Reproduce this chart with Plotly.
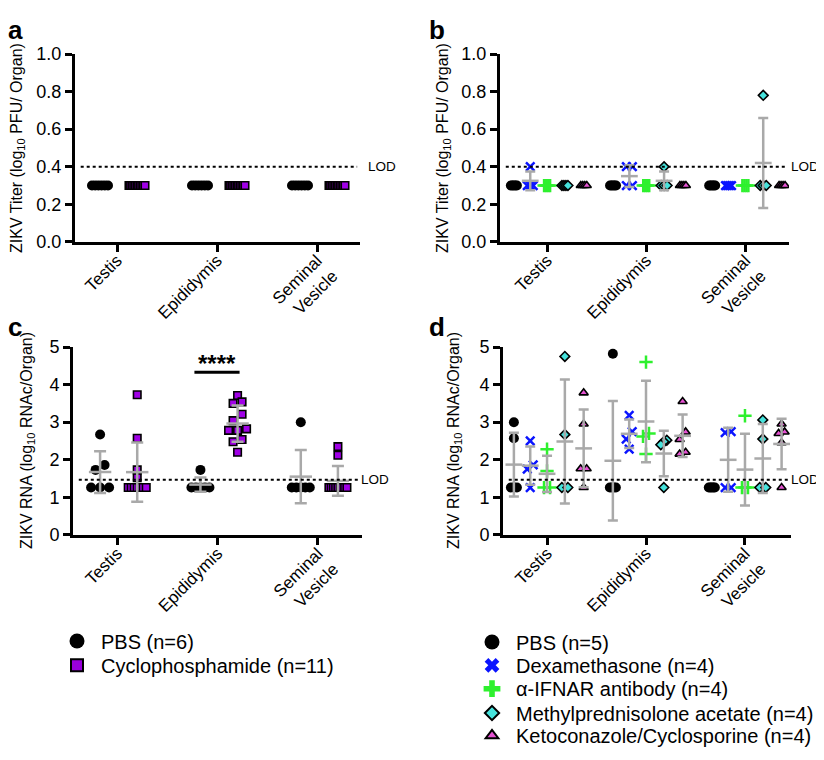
import plotly.graph_objects as go

# the page body adds an 8px margin, so everything is laid out in reference pixels minus 8
OX, OY = 8, 8
W, H = 816, 752
FONT = "Liberation Sans, Arial, sans-serif"
GREY = "#a9a9a9"

organs = ["Testis", "Epididymis", "Seminal<br>Vesicle"]

# panel a - ZIKV titer (log10 PFU/organ)
a_pbs = [[0.3, 0.3, 0.3, 0.3, 0.3, 0.3],
         [0.3, 0.3, 0.3, 0.3, 0.3, 0.3],
         [0.3, 0.3, 0.3, 0.3, 0.3, 0.3]]
a_cyc = [[0.3, 0.3, 0.3, 0.3, 0.3, 0.3, 0.3, 0.3, 0.3, 0.3, 0.3],
         [0.3, 0.3, 0.3, 0.3, 0.3, 0.3, 0.3, 0.3, 0.3, 0.3, 0.3],
         [0.3, 0.3, 0.3, 0.3, 0.3, 0.3, 0.3, 0.3, 0.3, 0.3, 0.3]]

# panel b - ZIKV titer, immunosuppressant treatments
b_pbs = [[0.3, 0.3, 0.3, 0.3, 0.3], [0.3, 0.3, 0.3, 0.3, 0.3], [0.3, 0.3, 0.3, 0.3, 0.3]]
b_dex = [[0.4, 0.3, 0.3, 0.3], [0.4, 0.4, 0.3, 0.3], [0.3, 0.3, 0.3, 0.3]]
b_ifnar = [[0.3, 0.3, 0.3, 0.3], [0.3, 0.3, 0.3, 0.3], [0.3, 0.3, 0.3, 0.3]]
b_methyl = [[0.3, 0.3, 0.3, 0.3], [0.4, 0.3, 0.3, 0.3], [0.78, 0.3, 0.3, 0.3]]
b_keto = [[0.3, 0.3, 0.3, 0.3], [0.3, 0.3, 0.3, 0.3], [0.3, 0.3, 0.3, 0.3]]

# panel c - ZIKV RNA (log10 RNAc/organ)
c_pbs = [[2.67, 1.86, 1.73, 1.26, 1.26, 1.26],
         [1.73, 1.26, 1.26, 1.26, 1.26, 1.26],
         [3.0, 1.26, 1.26, 1.26, 1.26, 1.26]]
c_cyc = [[3.73, 2.57, 1.73, 1.52, 1.26, 1.26, 1.26, 1.26, 1.26, 1.26, 1.26],
         [3.71, 3.54, 3.50, 3.21, 3.04, 2.82, 2.78, 2.78, 2.54, 2.48, 2.20],
         [2.35, 2.12, 1.26, 1.26, 1.26, 1.26, 1.26, 1.26, 1.26, 1.26, 1.26]]

# panel d - ZIKV RNA, immunosuppressant treatments
d_pbs = [[3.0, 2.57, 1.26, 1.26, 1.26], [4.82, 1.26, 1.26, 1.26, 1.26], [1.26, 1.26, 1.26, 1.26, 1.26]]
d_dex = [[2.5, 1.86, 1.75, 1.26], [3.18, 2.75, 2.55, 2.28], [2.75, 2.72, 1.26, 1.26]]
d_ifnar = [[2.28, 1.7, 1.26, 1.26], [4.6, 2.7, 2.62, 2.15], [3.17, 1.26, 1.26, 1.26]]
d_methyl = [[4.75, 2.67, 1.26, 1.26], [2.52, 2.48, 2.4, 1.26], [3.06, 2.55, 1.26, 1.26]]
d_keto = [[3.78, 2.95, 1.76, 1.76, 1.26], [3.55, 2.74, 2.54, 2.2, 2.15], [2.95, 2.74, 2.70, 2.45, 1.26]]

lod_titer = 0.4
lod_rna = 1.47

legend_c = ["PBS (n=6)", "Cyclophosphamide (n=11)"]
legend_d = ["PBS (n=5)", "Dexamethasone (n=4)", "α-IFNAR antibody (n=4)",
            "Methylprednisolone acetate (n=4)", "Ketoconazole/Cyclosporine (n=4)"]


def fx(px):
    return (px - OX) / W


def fy(py):
    return 1 - (py - OY) / H


# marker styles (data points, legend symbol)
sty = {
    "pbs": (dict(symbol="circle", size=10, color="black"),
            dict(symbol="circle", size=15, color="black")),
    "cyc": (dict(symbol="square", size=7.5, color="#a000e6", line=dict(color="black", width=1.6)),
            dict(symbol="square", size=12, color="#9a00dd", line=dict(color="black", width=2))),
    "dex": (dict(symbol="x-thin", size=8.5, color="#0a14ff", line=dict(color="#0a14ff", width=2.5)),
            dict(symbol="x", size=13, color="#0a14ff", line=dict(width=0))),
    "ifnar": (dict(symbol="cross-thin", size=9.5, color="#2ef02e", line=dict(color="#2ef02e", width=2.5)),
              dict(symbol="cross", size=14, color="#2ef02e", line=dict(width=0))),
    "methyl": (dict(symbol="diamond", size=7.5, color="#46e3dc", line=dict(color="black", width=1.6)),
               dict(symbol="diamond", size=11, color="#46e3dc", line=dict(color="black", width=2))),
    "keto": (dict(symbol="triangle-up", size=8, color="#e552d2", line=dict(color="black", width=1.6)),
             dict(symbol="triangle-up", size=11, color="#e552d2", line=dict(color="black", width=2))),
}

# panel geometry in reference pixels: x0, x1, ytop, ybottom
panels = {
    "a": dict(ax="", box=(75, 360, 45, 238), xr=(-0.42, 2.43), yr=(0, 1.0), dt=0.2),
    "b": dict(ax="2", box=(500, 789, 45, 238), xr=(-0.475, 2.44), yr=(0, 1.0), dt=0.2),
    "c": dict(ax="3", box=(73, 362, 346, 539), xr=(-0.44, 2.44), yr=(0, 5), dt=1),
    "d": dict(ax="4", box=(503, 791, 346, 539), xr=(-0.445, 2.465), yr=(0, 5), dt=1),
}


def swarm(vals, center, ux, uy, hw, size=9.0):
    # spread overlapping points sideways, GraphPad style
    order = sorted(range(len(vals)), key=lambda i: vals[i])
    rows = []
    for i in order:
        if rows and (vals[i] - vals[rows[-1][0]]) * uy < size * 0.9:
            rows[-1].append(i)
        else:
            rows.append([i])
    xs = [center] * len(vals)
    for row in rows:
        k = len(row)
        if k == 1:
            continue
        step = min(size, 2 * hw / (k - 1))
        for j, i in enumerate(row):
            xs[i] = center + (j - (k - 1) / 2) * step / ux
    return xs


def mean_sd(vals):
    n = len(vals)
    m = sum(vals) / n
    sd = (sum((v - m) ** 2 for v in vals) / (n - 1)) ** 0.5
    return m, sd


fig = go.Figure()


def add_panel(key, groups, offsets, hw, mean_w, cap_w):
    p = panels[key]
    x0, x1, yt, yb = p["box"]
    ux = (x1 - x0) / (p["xr"][1] - p["xr"][0])
    uy = (yb - yt) / (p["yr"][1] - p["yr"][0])
    xa, ya = "x" + p["ax"], "y" + p["ax"]
    for (data, st), off in zip(groups, offsets):
        for ci, vals in enumerate(data):
            xs = swarm(vals, ci + off, ux, uy, hw)
            fig.add_trace(go.Scatter(x=xs, y=vals, mode="markers", marker=sty[st][0],
                                     xaxis=xa, yaxis=ya, showlegend=False, hoverinfo="skip"))
    # mean +/- SD drawn over the points
    for (data, st), off in zip(groups, offsets):
        for ci, vals in enumerate(data):
            m, sd = mean_sd(vals)
            if sd == 0:
                continue
            fig.add_trace(go.Scatter(
                x=[ci + off], y=[m], mode="markers",
                marker=dict(symbol="line-ew-open", size=mean_w, color=GREY,
                            line=dict(color=GREY, width=2.5)),
                error_y=dict(type="data", array=[sd], color=GREY, thickness=2.5, width=cap_w),
                xaxis=xa, yaxis=ya, showlegend=False, hoverinfo="skip"))


add_panel("a", [(a_pbs, "pbs"), (a_cyc, "cyc")], [-0.17, 0.2], 8, 16, 6)
add_panel("b", [(b_pbs, "pbs"), (b_dex, "dex"), (b_ifnar, "ifnar"), (b_methyl, "methyl"), (b_keto, "keto")],
          [-0.335, -0.17, 0, 0.18, 0.37], 3, 12, 5)
add_panel("c", [(c_pbs, "pbs"), (c_cyc, "cyc")], [-0.17, 0.2], 9, 16, 6)
add_panel("d", [(d_pbs, "pbs"), (d_dex, "dex"), (d_ifnar, "ifnar"), (d_methyl, "methyl"), (d_keto, "keto")],
          [-0.335, -0.17, 0, 0.18, 0.37], 3, 12, 5)

layout = dict(
    width=W, height=H, margin=dict(l=0, r=0, t=0, b=0),
    paper_bgcolor="white", plot_bgcolor="white",
    font=dict(family=FONT, color="black"),
)

# one legend per row so the rows sit where the reference has them
legend_rows = [(legend_c, ["pbs", "cyc"], "x3", "y3", 53, [648, 673]),
               (legend_d, ["pbs", "dex", "ifnar", "methyl", "keto"], "x4", "y4", 468,
                [649, 673, 697, 722, 745])]
li = 0
for names, keys, xa, ya, lx, rows in legend_rows:
    for name, st, ry in zip(names, keys, rows):
        li += 1
        lname = "legend" if li == 1 else "legend%d" % li
        fig.add_trace(go.Scatter(x=[None], y=[None], mode="markers", name=name, marker=sty[st][1],
                                 xaxis=xa, yaxis=ya, legend=lname))
        layout[lname] = dict(x=fx(lx), y=fy(ry), xanchor="left", yanchor="middle",
                             font=dict(size=20), itemwidth=38, bgcolor="rgba(0,0,0,0)",
                             borderwidth=0)

annotations = []
shapes = []
for key, p in panels.items():
    x0, x1, yt, yb = p["box"]
    ax = p["ax"]
    layout["xaxis" + ax] = dict(
        domain=[fx(x0), fx(x1)], range=list(p["xr"]), anchor="y" + ax,
        tickvals=[0, 1, 2], ticktext=organs, tickangle=-45, ticklabelstandoff=-8,
        tickfont=dict(size=17), showline=True, linewidth=3, linecolor="black",
        ticks="outside", ticklen=7, tickwidth=3, tickcolor="black",
        showgrid=False, zeroline=False, fixedrange=True)
    layout["yaxis" + ax] = dict(
        domain=[fy(yb), fy(yt)], range=list(p["yr"]), anchor="x" + ax,
        dtick=p["dt"], tick0=0, tickformat=".1f" if p["dt"] < 1 else "d",
        tickfont=dict(size=18), showline=True, linewidth=3, linecolor="black",
        ticks="outside", ticklen=7, tickwidth=3, tickcolor="black",
        showgrid=False, zeroline=False, fixedrange=True)

# LOD lines and labels
for key, lod, lx in [("a", lod_titer, 367), ("b", lod_titer, 790), ("c", lod_rna, 360), ("d", lod_rna, 790)]:
    ax = panels[key]["ax"]
    shapes.append(dict(type="line", xref="x%s domain" % ax, yref="y" + ax, x0=0.02, x1=0.99,
                       y0=lod, y1=lod, line=dict(color="black", width=2, dash="dot")))
    annotations.append(dict(text="LOD", xref="paper", yref="y" + ax, x=fx(lx), y=lod,
                            xanchor="left", yanchor="middle", showarrow=False,
                            font=dict(size=13.5), borderpad=0))

# y axis titles
titles = [("a", "ZIKV Titer (log<sub>10</sub> PFU/ Organ)", 18),
          ("b", "ZIKV Titer (log<sub>10</sub> PFU/ Organ)", 444),
          ("c", "ZIKV RNA (log<sub>10</sub> RNAc/Organ)", 28),
          ("d", "ZIKV RNA (log<sub>10</sub> RNAc/Organ)", 455)]
for key, t, xc in titles:
    ax = panels[key]["ax"]
    annotations.append(dict(text=t, xref="paper", yref="y%s domain" % ax, x=fx(xc), y=0.5,
                            textangle=-90, showarrow=False, font=dict(size=16),
                            xanchor="center", yanchor="middle"))

# panel letters
for letter, px, py in [("a", 15, 20), ("b", 437, 20), ("c", 15, 325), ("d", 437, 325)]:
    annotations.append(dict(text="<b>%s</b>" % letter, xref="paper", yref="paper",
                            x=fx(px), y=fy(py), showarrow=False, font=dict(size=26),
                            xanchor="center", yanchor="middle"))

# significance bar, epididymis panel c
shapes.append(dict(type="line", xref="x3", yref="y3", x0=0.77, x1=1.22, y0=4.33, y1=4.33,
                   line=dict(color="black", width=3)))
annotations.append(dict(text="<b>****</b>", xref="x3", yref="y3", x=0.99, y=4.14,
                        xanchor="center", yanchor="bottom", showarrow=False, font=dict(size=24)))

layout["annotations"] = annotations
layout["shapes"] = shapes
fig.update_layout(**layout)

fig.write_html("out.html")
